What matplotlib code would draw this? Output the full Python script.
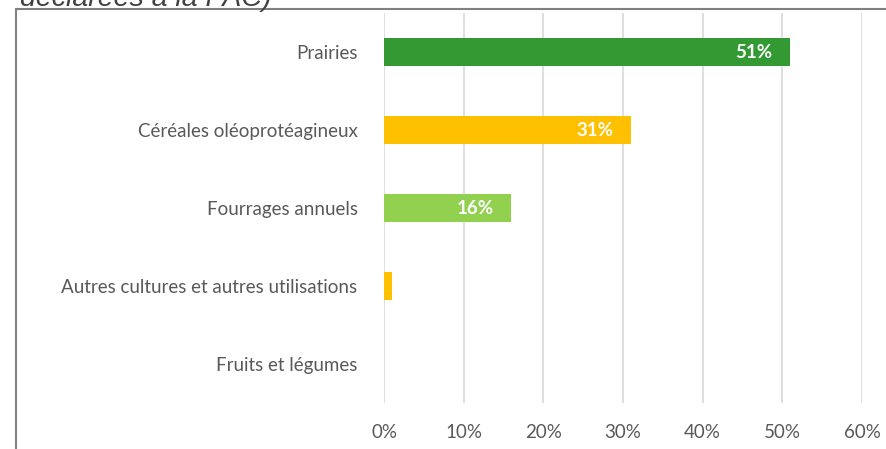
import matplotlib.pyplot as plt
from matplotlib.patches import Rectangle

# Data
categories = ['Prairies', 'Céréales oléoprotéagineux', 'Fourrages annuels',
              'Autres cultures et autres utilisations', 'Fruits et légumes']
values = [51, 31, 16, 1, 0]
labels = ['51%', '31%', '16%', '', '']
colors = ['#339933', '#FFC000', '#92D050', '#FFC000', '#FFC000']
xticks = [0, 10, 20, 30, 40, 50, 60]
xticklabels = ['0%', '10%', '20%', '30%', '40%', '50%', '60%']

W, H = 886, 449
fig = plt.figure(figsize=(W / 100, H / 100), dpi=100)
ax = fig.add_axes([384 / W, (H - 403) / H, (862 - 384) / W, 390 / H])

ypos = range(len(categories))
bars = ax.barh(ypos, values, height=0.35, color=colors)
for b, lab in zip(bars, labels):
    if lab:
        ax.text(b.get_width() - 2.2, b.get_y() + b.get_height() / 2, lab,
                ha='right', va='center', color='white', fontsize=13.5,
                fontweight='bold', family='Lato')

ax.set_xlim(0, 60)
ax.set_ylim(len(categories) - 0.5, -0.5)
ax.set_yticks(list(ypos))
ax.set_yticklabels(categories, family='Lato', fontsize=13.5, color='#595959')
ax.set_xticks(xticks)
ax.set_xticklabels(xticklabels, family='Lato', fontsize=13.5, color='#595959')
ax.tick_params(axis='y', length=0, pad=19)
ax.tick_params(axis='x', length=0, pad=15)
ax.grid(axis='x', color='#D9D9D9', linewidth=1.2)
ax.set_axisbelow(True)
for s in ax.spines.values():
    s.set_visible(False)

# Outer frame of the chart area
fig.patches.append(Rectangle((15.5 / W, -0.1), 1.0, (H - 9.5) / H + 0.1,
                             transform=fig.transFigure, fill=False,
                             edgecolor='#808080', linewidth=1.5))

# Title above the frame, cut off at the top as in the original
fig.text(20 / W, 1 - 6 / H, 'déclarées à la PAC)', ha='left', va='baseline',
         fontsize=20.5, style='italic', family='Liberation Sans', color='#404040')

fig.savefig('out.png', dpi=100)
